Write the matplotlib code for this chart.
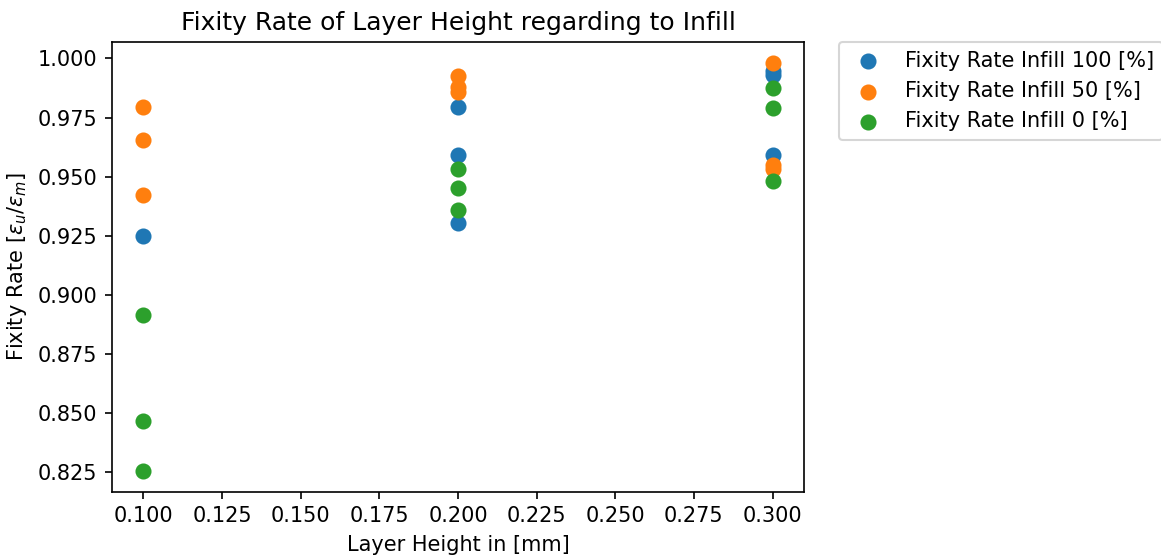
import matplotlib.pyplot as plt

# layer height [mm] per measurement
x_100 = [0.1, 0.2, 0.2, 0.2, 0.3, 0.3, 0.3]
y_100 = [0.925, 0.9794, 0.9592, 0.9306, 0.9949, 0.9931, 0.9593]

x_50 = [0.1, 0.1, 0.1, 0.2, 0.2, 0.2, 0.3, 0.3, 0.3]
y_50 = [0.9795, 0.9656, 0.9423, 0.9924, 0.9878, 0.9857, 0.9982, 0.9551, 0.9533]

x_0 = [0.1, 0.1, 0.1, 0.2, 0.2, 0.2, 0.3, 0.3, 0.3]
y_0 = [0.8914, 0.8466, 0.8254, 0.9533, 0.9452, 0.9359, 0.9874, 0.9792, 0.9482]

fig = plt.figure(figsize=(1161/150, 559/150), dpi=150)
ax = fig.add_axes([0.0965, 0.1204, 0.596, 0.8039])

ax.scatter(x_100, y_100, s=45, label="Fixity Rate Infill 100 [%]")
ax.scatter(x_50, y_50, s=45, label="Fixity Rate Infill 50 [%]")
ax.scatter(x_0, y_0, s=45, label="Fixity Rate Infill 0 [%]")

ax.set_title("Fixity Rate of Layer Height regarding to Infill")
ax.set_xlabel("Layer Height in [mm]")
ax.set_ylabel(r"Fixity Rate [$\varepsilon_u/\varepsilon_m$]")
ax.legend(bbox_to_anchor=(1.05, 1), loc="upper left", borderaxespad=0)

fig.savefig("out.png", dpi=150)
